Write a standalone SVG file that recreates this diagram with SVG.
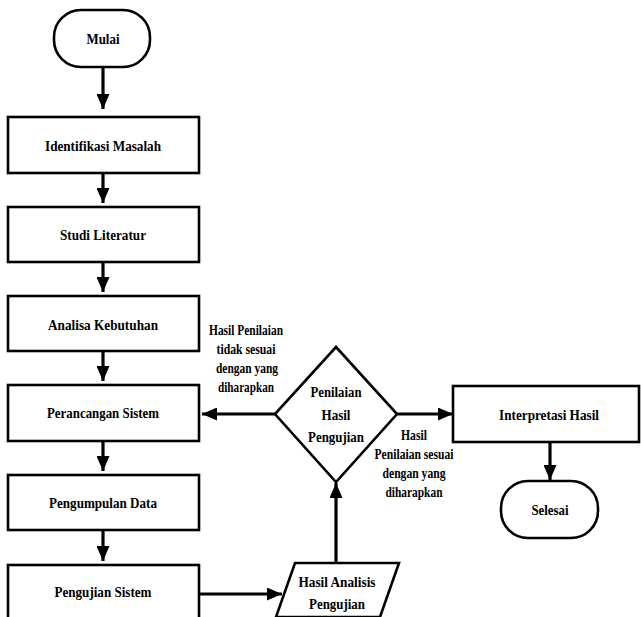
<svg xmlns="http://www.w3.org/2000/svg" width="641" height="617" viewBox="0 0 641 617">
<style>
.sh{fill:#fff;stroke:#000;stroke-width:2.6}
.t{font-family:'Liberation Serif','DejaVu Serif','Times New Roman',serif;font-weight:bold;font-size:15.5px;fill:#000;text-anchor:middle}
.c{fill:none;stroke:#000;stroke-width:3.2}
</style>
<defs>
<marker id="ah" markerUnits="userSpaceOnUse" markerWidth="15" markerHeight="13" refX="15" refY="6.5" orient="auto">
<path d="M0,0 L15,6.5 L0,13 z" fill="#000"/>
</marker>
</defs>
<rect width="641" height="617" fill="#fff"/>
<g id="connectors">
<line class="c" x1="103" y1="67" x2="103" y2="109" marker-end="url(#ah)"/>
<line class="c" x1="103" y1="173" x2="103" y2="203" marker-end="url(#ah)"/>
<line class="c" x1="103" y1="262" x2="103" y2="292" marker-end="url(#ah)"/>
<line class="c" x1="103" y1="351" x2="103" y2="381" marker-end="url(#ah)"/>
<line class="c" x1="103" y1="441" x2="103" y2="471" marker-end="url(#ah)"/>
<line class="c" x1="103" y1="530" x2="103" y2="561" marker-end="url(#ah)"/>
<line class="c" x1="199" y1="594" x2="282" y2="594" marker-end="url(#ah)"/>
<line class="c" x1="336" y1="563" x2="336" y2="483" marker-end="url(#ah)"/>
<line class="c" x1="275" y1="414" x2="202" y2="414" marker-end="url(#ah)"/>
<line class="c" x1="397" y1="414" x2="453" y2="414" marker-end="url(#ah)"/>
<line class="c" x1="550" y1="442" x2="550" y2="480" marker-end="url(#ah)"/>
</g>
<g id="mulai">
<rect class="sh" x="54" y="10" width="96" height="57" rx="27"/>
<text class="t" x="103" y="44" textLength="33" lengthAdjust="spacingAndGlyphs">Mulai</text>
</g>
<g id="identifikasi">
<rect class="sh" x="8" y="117" width="191" height="56"/>
<text class="t" x="103" y="151" textLength="116" lengthAdjust="spacingAndGlyphs">Identifikasi Masalah</text>
</g>
<g id="studi">
<rect class="sh" x="8" y="207" width="191" height="55"/>
<text class="t" x="103" y="240" textLength="86" lengthAdjust="spacingAndGlyphs">Studi Literatur</text>
</g>
<g id="analisa">
<rect class="sh" x="8" y="296" width="191" height="55"/>
<text class="t" x="103" y="330" textLength="110" lengthAdjust="spacingAndGlyphs">Analisa Kebutuhan</text>
</g>
<g id="perancangan">
<rect class="sh" x="8" y="385" width="191" height="56"/>
<text class="t" x="103" y="418" textLength="112" lengthAdjust="spacingAndGlyphs">Perancangan Sistem</text>
</g>
<g id="pengumpulan">
<rect class="sh" x="8" y="475" width="191" height="55"/>
<text class="t" x="103" y="508" textLength="108" lengthAdjust="spacingAndGlyphs">Pengumpulan Data</text>
</g>
<g id="pengujian">
<rect class="sh" x="8" y="565" width="191" height="60"/>
<text class="t" x="103" y="597" textLength="97" lengthAdjust="spacingAndGlyphs">Pengujian Sistem</text>
</g>
<g id="hasil-analisis">
<polygon class="sh" points="295,563 399,563 380,617 276,617"/>
<text class="t" x="337" y="587" textLength="77" lengthAdjust="spacingAndGlyphs">Hasil Analisis</text>
<text class="t" x="337" y="609" textLength="56" lengthAdjust="spacingAndGlyphs">Pengujian</text>
</g>
<g id="penilaian">
<polygon class="sh" points="336,347 397,414 336,482 275,414"/>
<text class="t" x="336" y="397" textLength="51" lengthAdjust="spacingAndGlyphs">Penilaian</text>
<text class="t" x="336" y="420" textLength="29" lengthAdjust="spacingAndGlyphs">Hasil</text>
<text class="t" x="336" y="442" textLength="56" lengthAdjust="spacingAndGlyphs">Pengujian</text>
</g>
<g id="label-tidak">
<text class="t" x="246" y="335" textLength="74" lengthAdjust="spacingAndGlyphs">Hasil Penilaian</text>
<text class="t" x="246" y="354" textLength="59" lengthAdjust="spacingAndGlyphs">tidak sesuai</text>
<text class="t" x="247" y="373" textLength="62" lengthAdjust="spacingAndGlyphs">dengan yang</text>
<text class="t" x="246" y="392" textLength="56" lengthAdjust="spacingAndGlyphs">diharapkan</text>
</g>
<g id="label-sesuai">
<text class="t" x="414" y="440" textLength="26" lengthAdjust="spacingAndGlyphs">Hasil</text>
<text class="t" x="414" y="459" textLength="79" lengthAdjust="spacingAndGlyphs">Penilaian sesuai</text>
<text class="t" x="414" y="478" textLength="63" lengthAdjust="spacingAndGlyphs">dengan yang</text>
<text class="t" x="414" y="497" textLength="57" lengthAdjust="spacingAndGlyphs">diharapkan</text>
</g>
<g id="interpretasi">
<rect class="sh" x="453" y="386" width="186" height="56"/>
<text class="t" x="549" y="420" textLength="100" lengthAdjust="spacingAndGlyphs">Interpretasi Hasil</text>
</g>
<g id="selesai">
<rect class="sh" x="501" y="481" width="97" height="57" rx="27"/>
<text class="t" x="550" y="515" textLength="37" lengthAdjust="spacingAndGlyphs">Selesai</text>
</g>
</svg>
